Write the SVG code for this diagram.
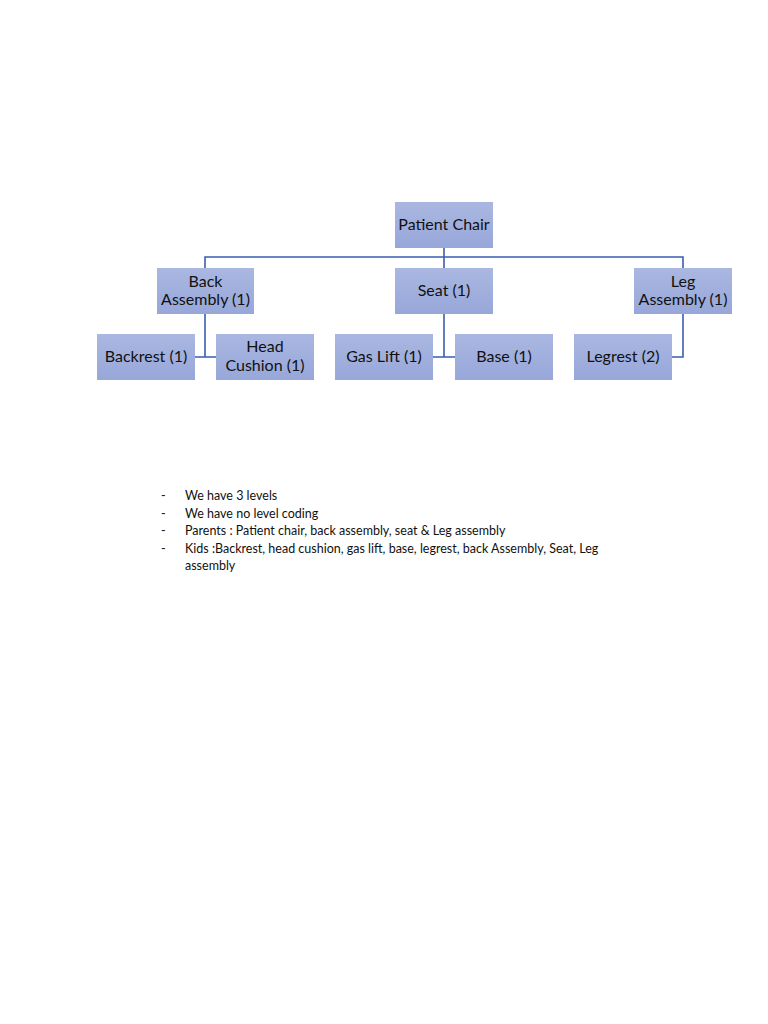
<svg xmlns="http://www.w3.org/2000/svg" width="768" height="1024" viewBox="0 0 768 1024">
<defs>
<linearGradient id="g" x1="0" y1="0" x2="0" y2="1"><stop offset="0" stop-color="#aab7e1"/><stop offset="1" stop-color="#97a7d9"/></linearGradient>
<style>
.n{fill:url(#g)}
.t{font-family:Lato,"Liberation Sans",sans-serif;font-size:16px;fill:#111;text-anchor:middle}
.c{stroke:#3a5eb0;stroke-width:1.6;fill:none}
.b{font-family:Lato,"Liberation Sans",sans-serif;font-size:12.5px;fill:#111}
</style>
</defs>
<rect width="768" height="1024" fill="#fff"/>
<g id="connectors">
<path class="c" d="M444 248V268M205 268V257H683V268"/>
<path class="c" d="M205 314V357H216M195 357H205"/>
<path class="c" d="M444 314V357H455M433 357H444"/>
<path class="c" d="M683 314V357H672"/>
</g>
<g id="patient"><rect class="n" x="395" y="202" width="98" height="46"/><text class="t" x="444" y="230">Patient Chair</text></g>
<g id="back"><rect class="n" x="157" y="268" width="97" height="46"/><text class="t" x="205.5" y="287">Back</text><text class="t" x="205.5" y="305">Assembly (1)</text></g>
<g id="seat"><rect class="n" x="395" y="268" width="98" height="46"/><text class="t" x="444" y="296">Seat (1)</text></g>
<g id="leg"><rect class="n" x="634" y="268" width="98" height="46"/><text class="t" x="683" y="287">Leg</text><text class="t" x="683" y="305">Assembly (1)</text></g>
<g id="backrest"><rect class="n" x="97" y="334" width="98" height="46"/><text class="t" x="146" y="362">Backrest (1)</text></g>
<g id="head"><rect class="n" x="216" y="334" width="98" height="46"/><text class="t" x="265" y="352">Head</text><text class="t" x="265" y="371">Cushion (1)</text></g>
<g id="gaslift"><rect class="n" x="335" y="334" width="98" height="46"/><text class="t" x="384" y="362">Gas Lift (1)</text></g>
<g id="base"><rect class="n" x="455" y="334" width="98" height="46"/><text class="t" x="504" y="362">Base (1)</text></g>
<g id="legrest"><rect class="n" x="574" y="334" width="98" height="46"/><text class="t" x="623" y="362">Legrest (2)</text></g>
<g class="b">
<text x="161" y="500">-</text><text x="185" y="500">We have 3 levels</text>
<text x="161" y="518">-</text><text x="185" y="518">We have no level coding</text>
<text x="161" y="535">-</text><text x="185" y="535">Parents : Patient chair, back assembly, seat &amp; Leg assembly</text>
<text x="161" y="553">-</text><text x="185" y="553">Kids :Backrest, head cushion, gas lift, base, legrest, back Assembly, Seat, Leg</text>
<text x="185" y="570">assembly</text>
</g>
</svg>
